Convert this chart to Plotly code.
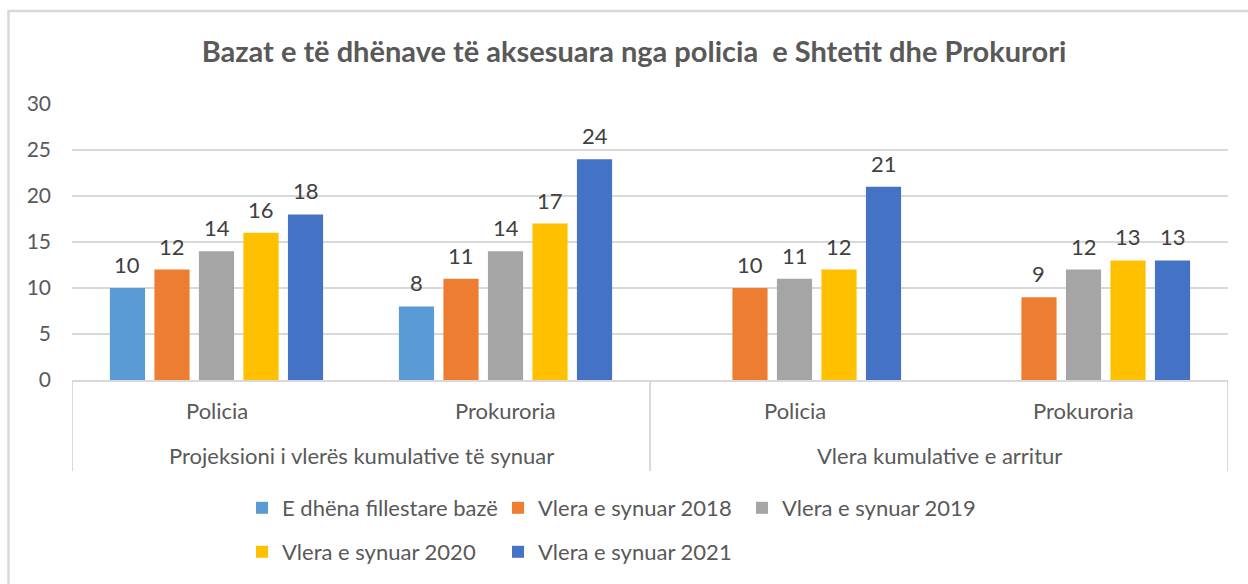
import plotly.graph_objects as go

# ---- data ----
groups = ["Projeksioni i vlerës kumulative të synuar", "Vlera kumulative e arritur"]
categories = ["Policia", "Prokuroria", "Policia", "Prokuroria"]
category_group = [0, 0, 1, 1]
series_names = [
    "E dhëna fillestare bazë",
    "Vlera e synuar 2018",
    "Vlera e synuar 2019",
    "Vlera e synuar 2020",
    "Vlera e synuar 2021",
]
baseline = [10, 8, None, None]
target_2018 = [12, 11, 10, 9]
target_2019 = [14, 14, 11, 12]
target_2020 = [16, 17, 12, 13]
target_2021 = [18, 24, 21, 13]
y_ticks = [0, 5, 10, 15, 20, 25, 30]

series_values = [baseline, target_2018, target_2019, target_2020, target_2021]
series_colors = ["#5B9BD5", "#ED7D31", "#A5A5A5", "#FFC000", "#4472C4"]

# ---- layout geometry (pixels) ----
W, H = 1248, 584
L, R, T, B = 72, 1228, 104, 380
BARGAP = 0.23
BARGROUPGAP = 0.21
FONT = "Lato, 'Open Sans', sans-serif"
TEXT = "#595959"
LINE = "#D9D9D9"


def paper_x(px):
    return (px - L) / (R - L)


def paper_y(py):
    return (B - py) / (B - T)


x_pos = list(range(len(categories)))
n = len(series_names)
slot = (1 - BARGAP) / n

fig = go.Figure()
legend_ids = ["legend", "legend2", "legend3", "legend4", "legend5"]
for j, (name, vals, col) in enumerate(zip(series_names, series_values, series_colors)):
    fig.add_trace(go.Bar(
        x=x_pos, y=vals, name=name, marker=dict(color=col, line=dict(width=0)),
        legend=legend_ids[j], hoverinfo="y+name",
    ))
    # value labels above each bar
    for i, v in enumerate(vals):
        if v is None:
            continue
        fig.add_annotation(
            x=i + (j - (n - 1) / 2) * slot, y=v, xref="x", yref="y",
            text=str(v), showarrow=False, yanchor="bottom", yshift=8,
            font=dict(family=FONT, size=22, color="#404040"),
        )

# category labels (first level)
for i, c in enumerate(categories):
    fig.add_annotation(
        x=i, y=paper_y(410), xref="x", yref="paper", text=c, showarrow=False,
        yanchor="middle", font=dict(family=FONT, size=22, color=TEXT),
    )

# group labels (second level)
for g, gname in enumerate(groups):
    members = [i for i, cg in enumerate(category_group) if cg == g]
    fig.add_annotation(
        x=(members[0] + members[-1]) / 2, y=paper_y(455), xref="x", yref="paper",
        text=gname, showarrow=False, yanchor="middle",
        font=dict(family=FONT, size=22, color=TEXT),
    )

# group dividers
bounds = [-0.5] + [i + 0.5 for i in range(len(categories) - 1)
                   if category_group[i] != category_group[i + 1]] + [len(categories) - 0.5]
for bx in bounds:
    fig.add_shape(type="line", xref="x", yref="paper", x0=bx, x1=bx,
                  y0=0, y1=paper_y(471), line=dict(color=LINE, width=2))

# chart frame
fig.add_shape(type="rect", xref="paper", yref="paper",
              x0=paper_x(8.5), x1=paper_x(1300), y0=paper_y(640), y1=paper_y(11),
              line=dict(color=LINE, width=2.5), fillcolor="rgba(0,0,0,0)", layer="below")

# legend placement: two rows
legend_pos = [(242, 508), (498, 508), (742, 508), (242, 552), (498, 552)]
legend_layout = {}
for lid, (lx, ly) in zip(legend_ids, legend_pos):
    legend_layout[lid] = dict(
        x=paper_x(lx), y=paper_y(ly), xanchor="left", yanchor="middle",
        orientation="h", bgcolor="rgba(0,0,0,0)", borderwidth=0,
        font=dict(family=FONT, size=22, color=TEXT),
    )

fig.update_layout(
    width=W, height=H,
    margin=dict(l=L, r=W - R, t=T, b=H - B, autoexpand=False),
    paper_bgcolor="white", plot_bgcolor="white",
    barmode="group", bargap=BARGAP, bargroupgap=BARGROUPGAP,
    title=dict(
        text="<b>Bazat e të dhënave të aksesuara nga policia  e Shtetit dhe Prokurori</b>",
        x=634 / W, xref="container", xanchor="center",
        y=1 - 52 / H, yref="container", yanchor="middle",
        font=dict(family=FONT, size=29, color=TEXT),
    ),
    xaxis=dict(range=[-0.5, len(categories) - 0.5], showticklabels=False,
               showgrid=False, zeroline=False, showline=True,
               linecolor=LINE, linewidth=2, ticks=""),
    yaxis=dict(range=[0, 30], tickvals=y_ticks, showgrid=True, gridcolor=LINE,
               gridwidth=2, zeroline=False, showline=False, ticks="",
               ticklabelstandoff=20,
               tickfont=dict(family=FONT, size=21, color=TEXT)),
    showlegend=True,
    **legend_layout,
)

fig.write_html("out.html")
